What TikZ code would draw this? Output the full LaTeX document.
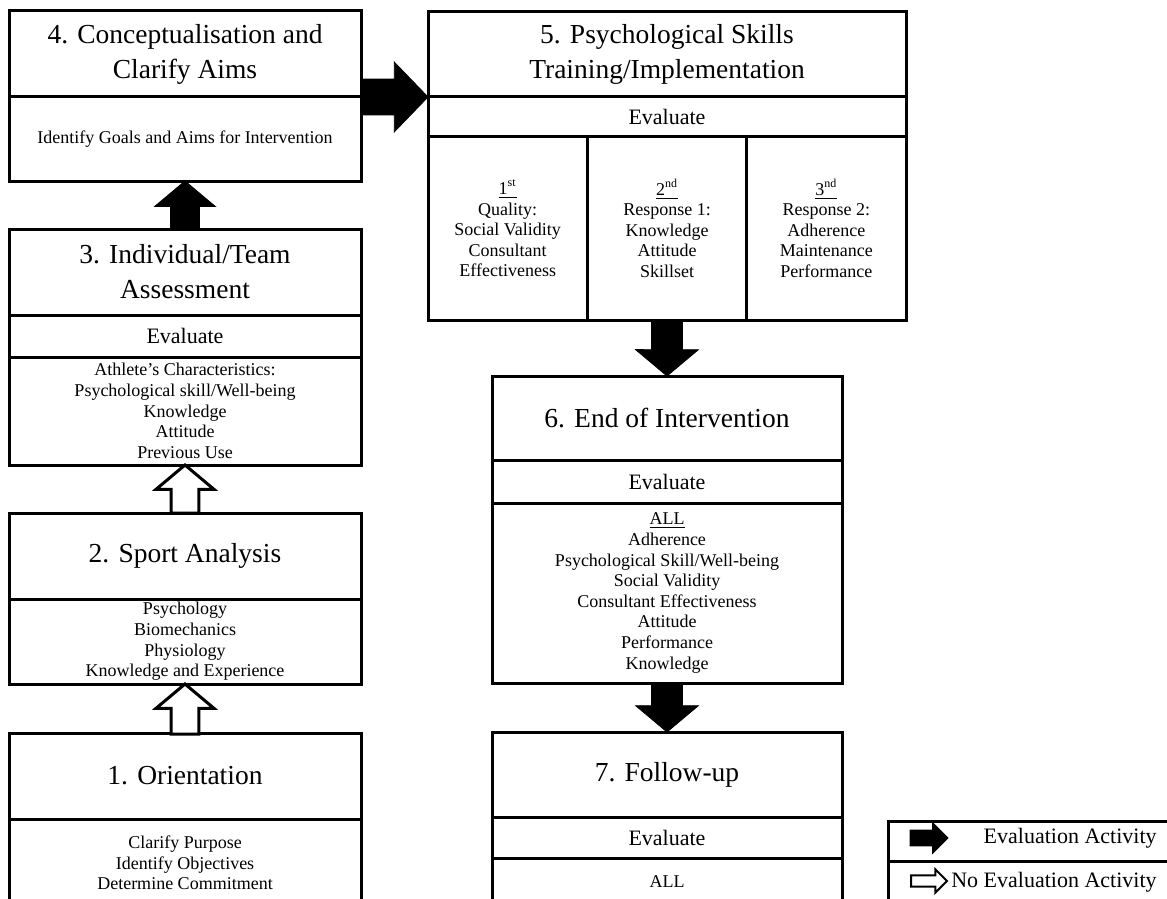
\documentclass[tikz,border=0pt]{standalone}
\usepackage{fontspec}
\setmainfont{Liberation Serif}
\usetikzlibrary{positioning, shapes.arrows}

\newcommand{\titlefont}{\fontsize{13.75pt}{17.5pt}\selectfont}
\newcommand{\evalfont}{\fontsize{11pt}{13pt}\selectfont}
\newcommand{\bodyfont}{\fontsize{9pt}{10.3pt}\selectfont}

\tikzset{
	boxpart/.style={draw, line width=1.5pt, outer sep=0pt, inner sep=0.5pt, align=center},
	titlesec/.style={boxpart, font=\titlefont, minimum height=43pt},
	evalsec/.style={boxpart, font=\evalfont, minimum height=21pt},
	bodysec/.style={boxpart, font=\bodyfont},
	leftw/.style={minimum width=176pt},
	midw/.style={minimum width=175pt},
	topw/.style={minimum width=239pt},
	colw/.style={minimum width=79.67pt, minimum height=91.5pt},
	% shaft half width = inner ysep
	arrowshape/.style={single arrow, draw=black, line width=0.4pt, inner xsep=0pt, outer sep=0pt},
	blockarrow/.style={arrowshape, pos=1, anchor=tip, sloped, allow upside down,
		single arrow tip angle=100, inner ysep=7pt, single arrow head extend=8pt},
	evalarrow/.style={blockarrow, fill=black},
	noevalarrow/.style={blockarrow, fill=white, line width=1.5pt, inner ysep=6.2pt, single arrow head extend=7.5pt},
}

\begin{document}
\begin{tikzpicture}[x=0.5pt, y=-0.5pt]
	\useasboundingbox (0,0) rectangle (1167,899);
	
	% left column
	\node[titlesec, leftw, anchor=north] (b4t) at (185,11) {4. Conceptualisation and\\Clarify Aims};
	\node[bodysec, leftw, minimum height=42pt, below=0pt of b4t] (b4b) {Identify Goals and Aims for Intervention};
	
	\node[titlesec, leftw, anchor=north] (b3t) at (185,229) {3. Individual/Team\\Assessment};
	\node[evalsec, leftw, below=0pt of b3t] (b3e) {Evaluate};
	\node[bodysec, leftw, minimum height=54pt, below=0pt of b3e] (b3b) {Athlete’s Characteristics:\\Psychological skill/Well-being\\Knowledge\\Attitude\\Previous Use};
	
	\node[titlesec, leftw, anchor=north] (b2t) at (185,513) {2. Sport Analysis};
	\node[bodysec, leftw, minimum height=42.5pt, below=0pt of b2t] (b2b) {Psychology\\Biomechanics\\Physiology\\Knowledge and Experience};
	
	\node[titlesec, leftw, anchor=north] (b1t) at (185,733) {1. Orientation};
	\node[bodysec, leftw, minimum height=44pt, below=0pt of b1t] (b1b) {Clarify Purpose\\Identify Objectives\\Determine Commitment};
	
	% middle column
	\node[titlesec, topw, minimum height=42.5pt, anchor=north] (b5t) at (667,12) {5. Psychological Skills\\Training/Implementation};
	\node[evalsec, topw, minimum height=20pt, below=0pt of b5t] (b5e) {Evaluate};
	\node[bodysec, colw, anchor=north west] (b5c1) at (b5e.south west) {\underline{1\textsuperscript{st}}\\Quality:\\Social Validity\\Consultant\\Effectiveness};
	\node[bodysec, colw, right=0pt of b5c1] (b5c2) {\underline{2\textsuperscript{nd}}\\Response 1:\\Knowledge\\Attitude\\Skillset};
	\node[bodysec, colw, right=0pt of b5c2] (b5c3) {\underline{3\textsuperscript{nd}}\\Response 2:\\Adherence\\Maintenance\\Performance};
	
	\node[titlesec, midw, minimum height=42pt, anchor=north] (b6t) at (667,376) {6. End of Intervention};
	\node[evalsec, midw, minimum height=21.5pt, below=0pt of b6t] (b6e) {Evaluate};
	\node[bodysec, midw, minimum height=90pt, below=0pt of b6e] (b6b) {\underline{ALL}\\Adherence\\Psychological Skill/Well-being\\Social Validity\\Consultant Effectiveness\\Attitude\\Performance\\Knowledge};
	
	\node[titlesec, midw, minimum height=42.5pt, anchor=north] (b7t) at (667,732) {7. Follow-up};
	\node[evalsec, midw, minimum height=20.5pt, below=0pt of b7t] (b7e) {Evaluate};
	\node[bodysec, midw, minimum height=24pt, below=0pt of b7e] (b7b) {ALL};
	
	% block arrows
	\path (b3t.north) -- (b4b.south) node[evalarrow, minimum height=24pt] (a34) {};
	\path (b2t.north) -- (b3b.south) node[noevalarrow, minimum height=24pt] (a23) {};
	\path (b1t.north) -- (b2b.south) node[noevalarrow, minimum height=25pt] (a12) {};
	\path (b4t.south east) -- (b5t.south west) node[evalarrow, minimum height=33.5pt, inner ysep=8.75pt, single arrow head extend=8.5pt, single arrow tip angle=92] (a45) {};
	\path (b5c2.south) -- (b6t.north) node[evalarrow, minimum height=28pt, inner ysep=7.5pt] (a56) {};
	\path (b6b.south) -- (b7t.north) node[evalarrow, minimum height=24.5pt, inner ysep=7.5pt] (a67) {};
	
	% legend
	\node[boxpart, minimum width=146pt, minimum height=20pt, anchor=north west] (leg1) at (888,821) {};
	\node[boxpart, minimum width=146pt, minimum height=20pt, below=0pt of leg1] (leg2) {};
	\node[arrowshape, fill=black, minimum height=19pt, inner ysep=3.75pt, single arrow head extend=3.75pt, single arrow tip angle=90, anchor=tail] (leg1arr) at (910,838) {};
	\node[arrowshape, fill=white, line width=1pt, minimum height=18pt, inner ysep=2.3pt, single arrow head extend=3pt, single arrow tip angle=90, anchor=tail] (leg2arr) at (911,881) {};
	\node[font=\evalfont, inner sep=0pt, anchor=east] (leg1txt) at (1157,838) {Evaluation Activity};
	\node[font=\evalfont, inner sep=0pt, anchor=east] (leg2txt) at (1157,882) {No Evaluation Activity};
\end{tikzpicture}
\end{document}
